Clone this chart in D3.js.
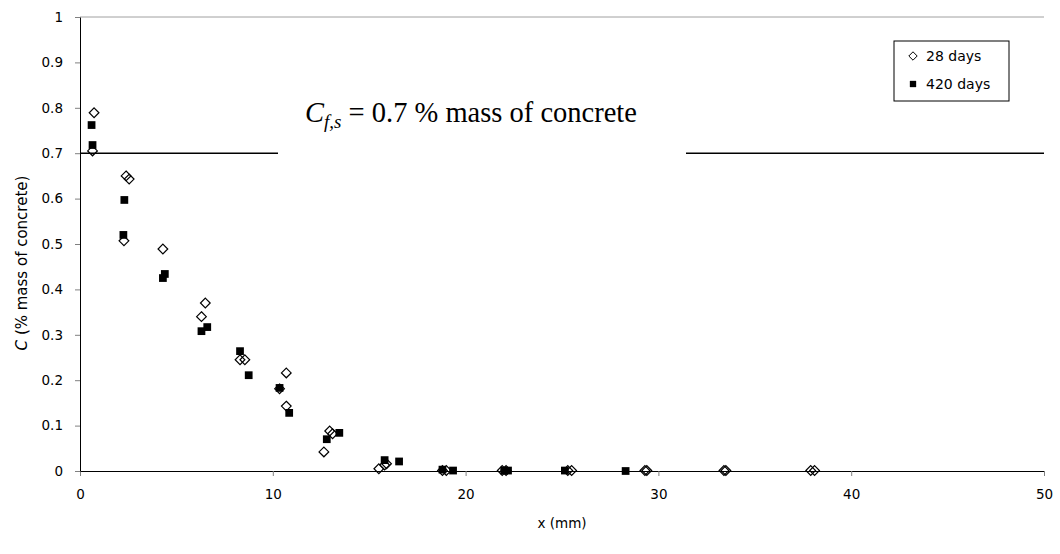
<!DOCTYPE html>
<html><head><meta charset="utf-8">
<script src="https://cdn.jsdelivr.net/npm/d3@7"></script>
<style>body{margin:0;background:#fff}svg{display:block}</style>
</head><body>
<script>
const xTicks = [0,10,20,30,40,50];
const yTicks = [0,0.1,0.2,0.3,0.4,0.5,0.6,0.7,0.8,0.9,1];
const seriesNames = ["28 days","420 days"];
const x28 = [0.73,0.65,2.39,2.55,2.28,4.3,6.5,6.3,8.3,8.55,10.7,10.7,10.35,12.95,13.1,12.65,15.5,15.8,15.9,18.8,19.0,21.9,22.1,25.3,25.5,29.3,29.4,33.4,33.5,37.9,38.1];
const y28 = [0.789,0.705,0.650,0.643,0.507,0.489,0.370,0.340,0.245,0.245,0.216,0.143,0.181,0.088,0.082,0.042,0.005,0.013,0.016,0.001,0.001,0.001,0.001,0.001,0.001,0.001,0.001,0.001,0.001,0.001,0.001];
const x420 = [0.6,0.65,2.3,2.25,4.4,4.3,6.6,6.3,8.3,8.75,10.35,10.85,12.8,13.45,15.8,16.55,18.8,19.35,22.0,22.2,25.15,28.3];
const y420 = [0.762,0.718,0.597,0.520,0.434,0.425,0.317,0.308,0.264,0.211,0.183,0.128,0.070,0.084,0.024,0.021,0.003,0.001,0.001,0.001,0.001,0.000];
const refValue = 0.7;

const W=1060,H=554, L=80, R=1044, T=17, B=471;
const svg=d3.select("body").append("svg").attr("width",W).attr("height",H);
const x=d3.scaleLinear().domain([0,50]).range([L,R]);
const y=d3.scaleLinear().domain([0,1]).range([B,T]);
const font="'DejaVu Sans', sans-serif";

// top border
svg.append("line").attr("x1",L).attr("x2",R).attr("y1",T).attr("y2",T).attr("stroke","#a0a0a0").attr("stroke-width",1);

// axes
const xa=svg.append("g").attr("transform",`translate(0,${B})`).call(d3.axisBottom(x).tickValues(xTicks).tickFormat(d3.format("d")).tickSize(5).tickSizeOuter(0));
const ya=svg.append("g").attr("transform",`translate(${L},0)`).call(d3.axisLeft(y).tickValues(yTicks).tickFormat(d=>d===0||d===1?String(d):d3.format(".1f")(d)).tickSize(5).tickSizeOuter(0));
[xa,ya].forEach(a=>{a.selectAll("path").attr("stroke","#000");a.selectAll("line").attr("stroke","#808080");a.selectAll("text").attr("font-family",font).attr("font-size",13.5).attr("fill","#000");});
xa.selectAll("text").attr("dy","1.45em");
ya.selectAll("text").attr("dx","-9");

// reference line
svg.append("line").attr("x1",L).attr("x2",R).attr("y1",y(refValue)).attr("y2",y(refValue)).attr("stroke","#000").attr("stroke-width",1.5);
// annotation box
svg.append("rect").attr("x",278).attr("y",72).attr("width",408).attr("height",90).attr("fill","#fff");
const ann=svg.append("text").attr("x",305).attr("y",122).attr("font-family","'Liberation Serif', serif").attr("font-size",28.5).attr("fill","#000");
ann.append("tspan").attr("font-style","italic").text("C");
ann.append("tspan").attr("font-style","italic").attr("font-size",19).attr("dy",6).text("f,s");
ann.append("tspan").attr("dy",-6).text(" = 0.7 % mass of concrete");

// points
const diamond=d3.symbol().type(d3.symbolDiamond2).size(60);
const pts28=d3.zip(x28,y28), pts420=d3.zip(x420,y420);
svg.append("g").selectAll("path").data(pts420).join("path")
  .attr("transform",d=>`translate(${x(d[0])},${y(d[1])})`)
  .attr("d",d3.symbol().type(d3.symbolSquare).size(60)).attr("fill","#000");
svg.append("g").selectAll("path").data(pts28).join("path")
  .attr("transform",d=>`translate(${x(d[0])},${y(d[1])})`)
  .attr("d",diamond).attr("fill","none").attr("stroke","#000").attr("stroke-width",1.2);

// axis titles
svg.append("text").attr("x",(L+R)/2).attr("y",528).attr("text-anchor","middle").attr("font-family",font).attr("font-size",13.5).text("x (mm)");
const yt=svg.append("text").attr("transform",`translate(27,263) rotate(-90)`).attr("text-anchor","middle").attr("font-family",font).attr("font-size",15);
yt.append("tspan").attr("font-style","italic").text("C");
yt.append("tspan").text(" (% mass of concrete)");

// legend
const lg=svg.append("g");
lg.append("rect").attr("x",894).attr("y",41).attr("width",115).attr("height",60).attr("fill","#fff").attr("stroke","#000");
lg.append("path").attr("transform","translate(913,56)").attr("d",d3.symbol().type(d3.symbolDiamond2).size(45)).attr("fill","none").attr("stroke","#000");
lg.append("path").attr("transform","translate(913,84)").attr("d",d3.symbol().type(d3.symbolSquare).size(40)).attr("fill","#000");
lg.append("text").attr("x",926).attr("y",61).attr("font-family",font).attr("font-size",14).text(seriesNames[0]);
lg.append("text").attr("x",926).attr("y",89).attr("font-family",font).attr("font-size",14).text(seriesNames[1]);
</script>
</body></html>
